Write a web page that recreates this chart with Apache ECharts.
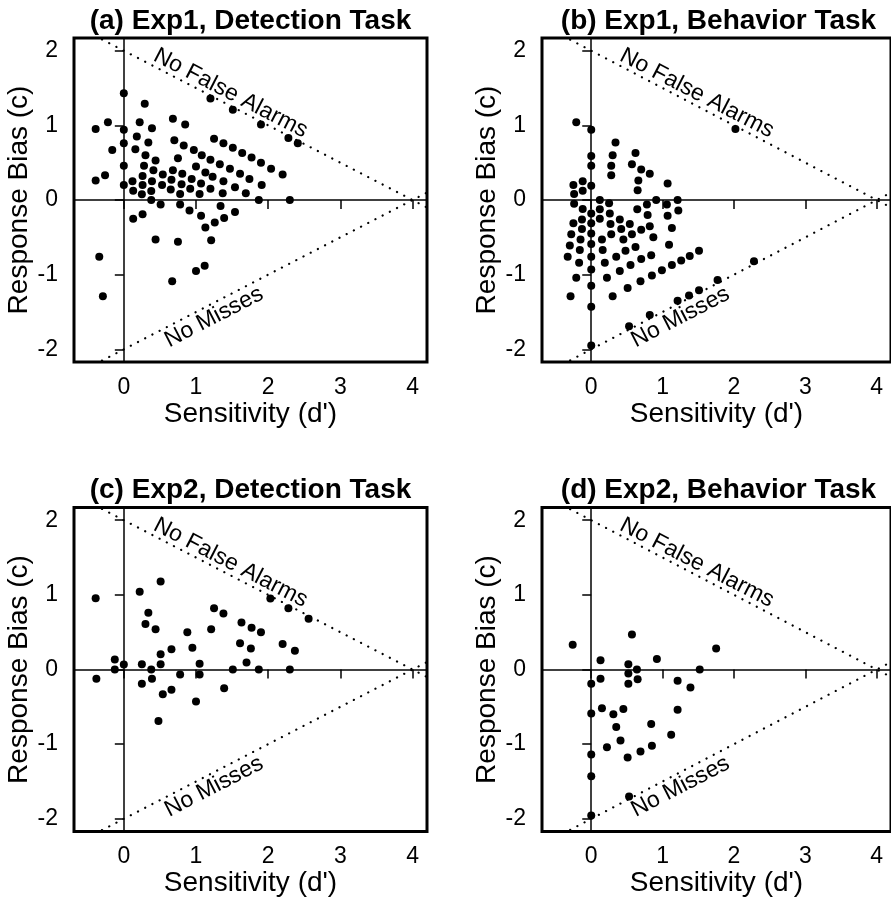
<!DOCTYPE html>
<html>
<head>
<meta charset="utf-8">
<script src="https://cdn.jsdelivr.net/npm/echarts@6/dist/echarts.min.js"></script>
<style>
  html, body { margin: 0; padding: 0; background: #fff; }
  #chart { width: 891px; height: 899px; }
</style>
</head>
<body>
<div id="chart"></div>
<script>
// Panel titles
var panelTitles = [
    '(a) Exp1, Detection Task',
    '(b) Exp1, Behavior Task',
    '(c) Exp2, Detection Task',
    '(d) Exp2, Behavior Task'
];

var xTicks = [0, 1, 2, 3, 4];
var yTicks = [-2, -1, 0, 1, 2];

// Sensitivity (d'), response bias (c) per participant
var exp1Detection = [
    [-0.39, 0.95], [-0.22, 1.04], [-0.16, 0.67], [-0.39, 0.26], [-0.26, 0.33], [-0.34, -0.76], [-0.29, -1.29],
    [0, 1.43], [0, 0.94], [0, 0.76], [0, 0.46], [0, 0.2],
    [0.29, 1.29], [0.22, 1.04], [0.39, 0.96], [0.18, 0.85], [0.34, 0.77], [0.16, 0.68], [0.3, 0.6],
    [0.44, 0.53], [0.28, 0.46], [0.41, 0.4], [0.54, 0.34], [0.12, 0.25], [0.26, 0.32], [0.26, 0.2],
    [0.39, 0.25], [0.53, 0.2], [0.13, 0.125], [0.25, 0.076], [0.38, 0.12], [0.38, 0], [0.51, -0.06],
    [0.13, -0.25], [0.26, -0.19], [0.44, -0.53],
    [0.68, 1.09], [0.85, 1.01], [0.7, 0.8], [0.83, 0.73], [0.75, 0.56], [0.68, 0.4], [0.81, 0.35],
    [0.66, 0.27], [0.8, 0.21], [0.65, 0.14], [0.78, 0.08], [0.78, -0.06], [0.75, -0.56], [0.67, -1.09],
    [0.97, 0.67], [1.08, 0.6], [1, 0.45], [0.94, 0.28], [1.13, 0.37], [1.07, 0.22], [0.92, 0.15],
    [1.05, 0.08], [0.91, -0.14], [1.07, -0.21], [1.13, -0.37], [1.21, -0.54], [1, -0.95], [1.12, -0.88],
    [1.2, 1.36], [1.51, 1.21], [1.25, 0.82], [1.38, 0.76], [1.51, 0.7], [1.64, 0.63], [1.77, 0.57],
    [1.9, 0.5], [2.04, 0.42], [2.2, 0.34],
    [1.2, 0.54], [1.33, 0.48], [1.47, 0.42], [1.61, 0.35], [1.74, 0.28], [1.91, 0.2],
    [1.23, 0.31], [1.38, 0.25], [1.54, 0.17], [1.69, 0.09], [1.2, 0.15], [1.37, 0.09], [1.34, -0.08],
    [1.26, -0.3], [1.39, -0.24], [1.54, -0.16],
    [1.87, 0], [2.3, 0], [1.9, 1.01], [2.28, 0.83], [2.41, 0.76]
];

var exp1Behavior = [
    [-0.21, 1.04], [-0.29, -1.29], [-0.25, 0.2], [-0.24, 0.08], [-0.24, -0.05], [-0.12, 0.25], [-0.12, 0.125],
    [-0.25, -0.31], [-0.28, -0.46], [-0.3, -0.61], [-0.33, -0.76],
    [-0.12, -0.12], [-0.13, -0.26], [-0.13, -0.39], [-0.15, -0.53], [-0.16, -0.67], [-0.17, -0.84], [-0.21, -1.04],
    [0, 0.94], [0, 0.59], [0, 0.46], [0, 0.19], [0, -0.18], [0, -0.31], [0, -0.45], [0, -0.59],
    [0, -0.76], [0, -0.93], [0, -1.15], [0, -1.43], [0, -1.95],
    [0.12, 0], [0.12, -0.125], [0.12, -0.25], [0.15, -0.53], [0.16, -0.67], [0.19, -0.84], [0.22, -1.04], [0.3, -1.29],
    [0.25, -0.045], [0.26, -0.18], [0.27, -0.32], [0.28, -0.46], [0.35, -0.76], [0.4, -0.95], [0.51, -1.18],
    [0.34, 0.77], [0.3, 0.6], [0.28, 0.46], [0.28, 0.33],
    [0.4, -0.26], [0.42, -0.39], [0.45, -0.53], [0.48, -0.68], [0.54, -0.32], [0.57, -0.46], [0.55, -0.87],
    [0.62, 0.63], [0.57, 0.48], [0.7, 0.41], [0.82, 0.35], [0.66, 0.26], [0.65, 0.13],
    [0.645, -0.125], [0.62, -0.63], [0.7, -0.4], [0.7, -0.79], [0.69, -1.09],
    [0.78, -0.06], [0.79, -0.2], [0.82, -0.35], [0.87, -0.5], [0.84, -0.74], [0.85, -1.01], [0.82, -1.54],
    [0.91, 0], [0.99, -0.94], [1.07, 0.22], [1.06, -0.06], [1.07, -0.21], [1.13, -0.375], [1.09, -0.6], [1.13, -0.87],
    [1.21, 0], [1.22, -0.14], [1.26, -0.81], [1.38, -0.75], [1.51, -0.68],
    [1.21, -1.35], [1.37, -1.28], [1.51, -1.21], [1.77, -1.07], [2.28, -0.82], [2.02, 0.95], [0.53, -1.69]
];

var exp2Detection = [
    [-0.39, 0.955], [-0.38, -0.125], [-0.125, 0.134], [-0.125, 0], [0, 0.067],
    [0.22, 1.04], [0.34, 0.76], [0.3, 0.61], [0.44, 0.54], [0.51, 1.18],
    [0.25, 0.07], [0.25, -0.19], [0.38, 0], [0.39, -0.125], [0.51, 0.205], [0.51, 0.07], [0.54, -0.33], [0.48, -0.69],
    [0.66, 0.27], [0.66, -0.27], [0.78, -0.067], [0.88, 0.5], [0.95, 0.29], [1, -0.43], [1.05, 0.076], [1.05, -0.067],
    [1.21, 0.54], [1.25, 0.82], [1.38, 0.75], [1.39, -0.25], [1.51, 0], [1.61, 0.35], [1.63, 0.63], [1.7, 0.094],
    [1.77, 0.56], [1.76, 0.28], [1.9, 0.5], [1.87, 0], [2.03, 0.95], [2.2, 0.34], [2.28, 0.82], [2.3, 0],
    [2.37, 0.25], [2.56, 0.68]
];

var exp2Behavior = [
    [-0.26, 0.33], [0.57, 0.47], [1.75, 0.28], [0.13, 0.125], [0.13, -0.125], [0.52, 0.07], [0.52, -0.054],
    [0.64, 0], [0.65, -0.13], [0.52, -0.19], [0.92, 0.14], [1.52, 0], [1.21, -0.15], [1.39, -0.24], [1.21, -0.54],
    [0, -0.19], [0, -0.59], [0, -1.14], [0, -1.43], [0, -1.955],
    [0.15, -0.52], [0.31, -0.6], [0.45, -0.53], [0.35, -0.77], [0.41, -0.95], [0.22, -1.04], [0.51, -1.18],
    [0.69, -1.1], [0.84, -0.73], [0.85, -1.02], [1.12, -0.875], [0.53, -1.7]
];

var panelData = [exp1Detection, exp1Behavior, exp2Detection, exp2Behavior];

// Boundary lines: no false alarms / no misses (through (0, ±2) and (4, 0))
var noFalseAlarmsLine = [[-1, 2.5], [5, -0.5]];
var noMissesLine = [[-1, -2.5], [5, 0.5]];
var noFalseAlarmsLabelAt = [1.48, 1.43];
var noMissesLabelAt = [1.25, -1.57];

var xRange = [-0.69, 4.2];
var yRange = [-2.17, 2.17];

var fontFamily = '"Liberation Sans", Arial, Helvetica, sans-serif';
var gridPos = [
    {left: 74, top: 38},
    {left: 542, top: 38},
    {left: 74, top: 507.5},
    {left: 542, top: 507.5}
];
var gridW = 353, gridH = 324;
var labelAngle = 27.3;

var chart = echarts.init(document.getElementById('chart'), null, {renderer: 'canvas'});

var option = {
    animation: false,
    backgroundColor: '#fff',
    title: [],
    grid: [],
    xAxis: [],
    yAxis: [],
    series: []
};

for (let i = 0; i < 4; ++i) {
    let g = gridPos[i];
    option.title.push({
        text: panelTitles[i],
        left: g.left + gridW / 2,
        top: g.top - 31,
        textAlign: 'center',
        padding: 0,
        textStyle: {fontFamily: fontFamily, fontSize: 28, fontWeight: 'bold', color: '#000'}
    });
    option.grid.push({
        left: g.left, top: g.top, width: gridW, height: gridH,
        show: true, borderColor: '#000', borderWidth: 3, backgroundColor: 'transparent'
    });
    option.xAxis.push({
        type: 'value', gridIndex: i, min: xRange[0], max: xRange[1],
        name: "Sensitivity (d')", nameLocation: 'middle', nameGap: 33,
        nameTextStyle: {fontFamily: fontFamily, fontSize: 28, color: '#000'},
        axisLine: {show: false},
        splitLine: {show: false},
        axisTick: {show: true, inside: false, length: 9, customValues: xTicks,
            lineStyle: {color: '#000', width: 1.5}},
        axisLabel: {customValues: xTicks, margin: 14, fontFamily: fontFamily, fontSize: 23, color: '#000'}
    });
    option.yAxis.push({
        type: 'value', gridIndex: i, min: yRange[0], max: yRange[1],
        name: 'Response Bias (c)', nameLocation: 'middle', nameGap: 38,
        nameTextStyle: {fontFamily: fontFamily, fontSize: 28, color: '#000'},
        axisLine: {show: false},
        splitLine: {show: false},
        axisTick: {show: true, inside: false, length: 9, customValues: yTicks,
            lineStyle: {color: '#000', width: 1.5}},
        axisLabel: {customValues: yTicks, margin: 16, fontFamily: fontFamily, fontSize: 23, color: '#000'}
    });

    let dotted = {color: '#000', width: 2.2, type: [0.1, 8], cap: 'round', opacity: 1};
    option.series.push({
        type: 'line', xAxisIndex: i, yAxisIndex: i, data: noFalseAlarmsLine,
        showSymbol: false, symbol: 'none', lineStyle: dotted, silent: true, clip: true, z: 1
    });
    option.series.push({
        type: 'line', xAxisIndex: i, yAxisIndex: i, data: noMissesLine,
        showSymbol: false, symbol: 'none', lineStyle: dotted, silent: true, clip: true, z: 1
    });
    option.series.push({
        type: 'scatter', xAxisIndex: i, yAxisIndex: i, symbolSize: 0, silent: true, z: 3,
        itemStyle: {opacity: 1},
        data: [
            {value: noFalseAlarmsLabelAt, label: {formatter: 'No False Alarms', rotate: -labelAngle}},
            {value: noMissesLabelAt, label: {formatter: 'No Misses', rotate: labelAngle}}
        ],
        label: {show: true, position: 'inside', fontFamily: fontFamily, fontSize: 23,
            color: '#000', textBorderWidth: 0}
    });
    option.series.push({
        type: 'scatter', xAxisIndex: i, yAxisIndex: i, data: panelData[i],
        symbol: 'circle', symbolSize: 8, itemStyle: {color: '#000', opacity: 1}, silent: true, z: 4,
        markLine: {
            silent: true, symbol: ['none', 'none'], label: {show: false},
            lineStyle: {color: '#000', width: 1.5, type: 'solid'},
            data: [{xAxis: 0}, {yAxis: 0}]
        }
    });
}

chart.setOption(option);
</script>
</body>
</html>
